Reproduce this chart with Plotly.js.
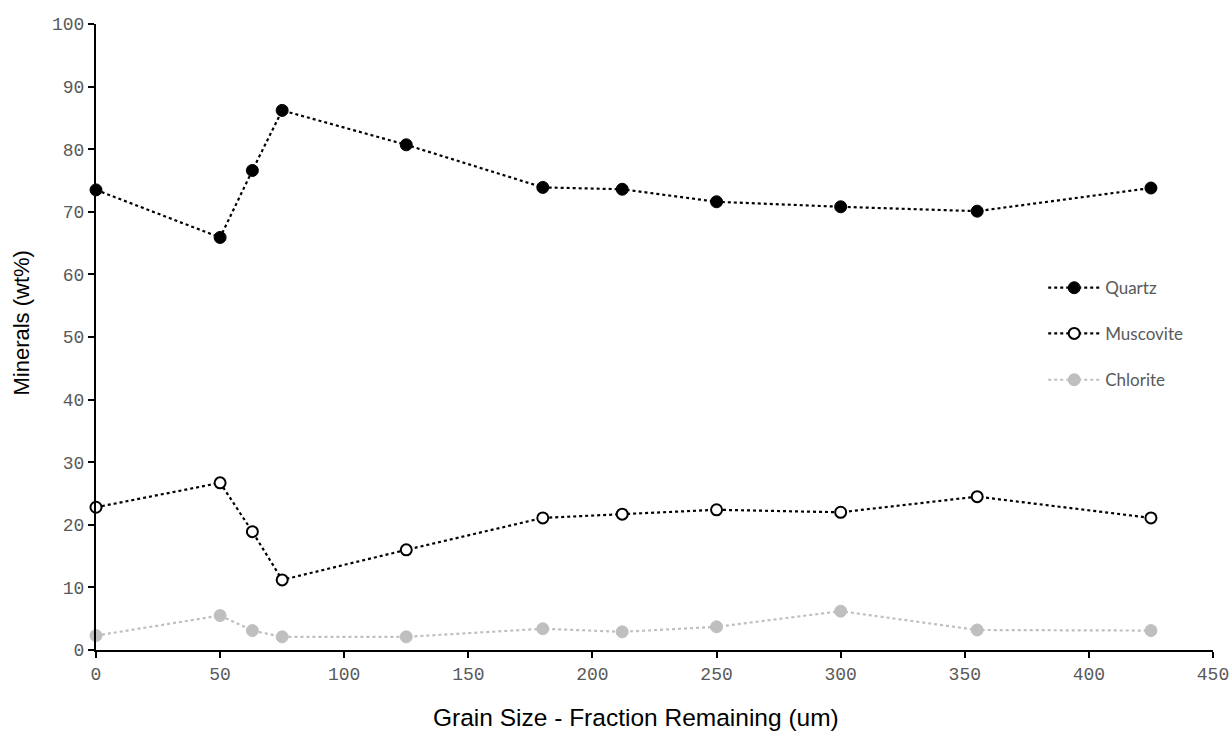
<!DOCTYPE html>
<html>
<head>
<meta charset="utf-8">
<script src="https://cdn.plot.ly/plotly-3.0.1.min.js"></script>
<style>
  html, body { margin: 0; padding: 0; background: #fff; }
  #chart { width: 1231px; height: 731px; }
</style>
</head>
<body>
<div id="chart"></div>
<script>
// Grain size of the fraction remaining (um)
const grainSize = [0, 50, 63, 75, 125, 180, 212, 250, 300, 355, 425];

// Mineral content (wt%) per fraction
const quartz    = [73.5, 65.9, 76.6, 86.2, 80.7, 73.9, 73.6, 71.6, 70.8, 70.1, 73.8];
const muscovite = [22.8, 26.7, 18.9, 11.2, 16.0, 21.1, 21.7, 22.4, 22.0, 24.5, 21.1];
const chlorite  = [2.3, 5.5, 3.1, 2.1, 2.1, 3.4, 2.9, 3.7, 6.2, 3.2, 3.1];

const seriesNames = ['Quartz', 'Muscovite', 'Chlorite'];
const xTitle = 'Grain Size - Fraction Remaining (um)';
const yTitle = 'Minerals (wt%)';

const lineDot = 'dot';

const traces = [
  {
    x: grainSize, y: quartz, name: seriesNames[0], legend: 'legend',
    mode: 'lines+markers', type: 'scatter', cliponaxis: false,
    line: { color: '#000000', width: 2.2, dash: lineDot },
    marker: { symbol: 'circle', size: 12, color: '#000000', line: { color: '#000000', width: 1 } }
  },
  {
    x: grainSize, y: muscovite, name: seriesNames[1], legend: 'legend2',
    mode: 'lines+markers', type: 'scatter', cliponaxis: false,
    line: { color: '#000000', width: 2.2, dash: lineDot },
    marker: { symbol: 'circle', size: 11, color: '#ffffff', line: { color: '#000000', width: 2 } }
  },
  {
    x: grainSize, y: chlorite, name: seriesNames[2], legend: 'legend3',
    mode: 'lines+markers', type: 'scatter', cliponaxis: false,
    line: { color: '#bfbfbf', width: 2.2, dash: lineDot },
    marker: { symbol: 'circle', size: 12, color: '#bfbfbf', line: { color: '#bfbfbf', width: 1 } }
  }
];

const tickFont = { family: 'Liberation Mono, Courier New, monospace', size: 18, color: '#595959' };
const xTitleFont = { family: 'Liberation Sans, Arial, sans-serif', size: 24.5, color: '#000000' };
const yTitleFont = { family: 'Liberation Sans, Arial, sans-serif', size: 22, color: '#000000' };
const legendFont = { family: 'Lato, Noto Sans, sans-serif', size: 17, color: '#595959' };

function legendAt(yPaper) {
  return {
    x: 0.848, y: yPaper, xanchor: 'left', yanchor: 'middle',
    itemwidth: 52,
    bgcolor: 'rgba(0,0,0,0)', borderwidth: 0, font: legendFont
  };
}

const layout = {
  width: 1231, height: 731,
  margin: { l: 96, r: 18, t: 24, b: 81 },
  paper_bgcolor: '#ffffff', plot_bgcolor: '#ffffff',
  showlegend: true,
  legend: legendAt(0.578),
  legend2: legendAt(0.505),
  legend3: legendAt(0.431),
  xaxis: {
    range: [0, 450], dtick: 50, tick0: 0,
    showgrid: false, zeroline: false,
    showline: true, linecolor: '#000000', linewidth: 2,
    ticks: 'outside', ticklen: 6, tickwidth: 2, tickcolor: '#000000',
    tickfont: tickFont
  },
  yaxis: {
    range: [0, 100], dtick: 10, tick0: 0,
    showgrid: false, zeroline: false,
    showline: true, linecolor: '#000000', linewidth: 2,
    ticks: 'outside', ticklen: 6, tickwidth: 2, tickcolor: '#000000',
    tickfont: tickFont
  },
  // Axis titles placed as annotations so they can sit slightly off-centre
  annotations: [
    {
      text: xTitle, font: xTitleFont, showarrow: false,
      xref: 'paper', yref: 'paper', x: 0.4834, y: -0.108,
      xanchor: 'center', yanchor: 'middle'
    },
    {
      text: yTitle, font: yTitleFont, showarrow: false, textangle: -90,
      xref: 'paper', yref: 'paper', x: -0.0663, y: 0.523,
      xanchor: 'center', yanchor: 'middle'
    }
  ]
};

Plotly.newPlot('chart', traces, layout, { displayModeBar: false, staticPlot: true });
</script>
</body>
</html>
